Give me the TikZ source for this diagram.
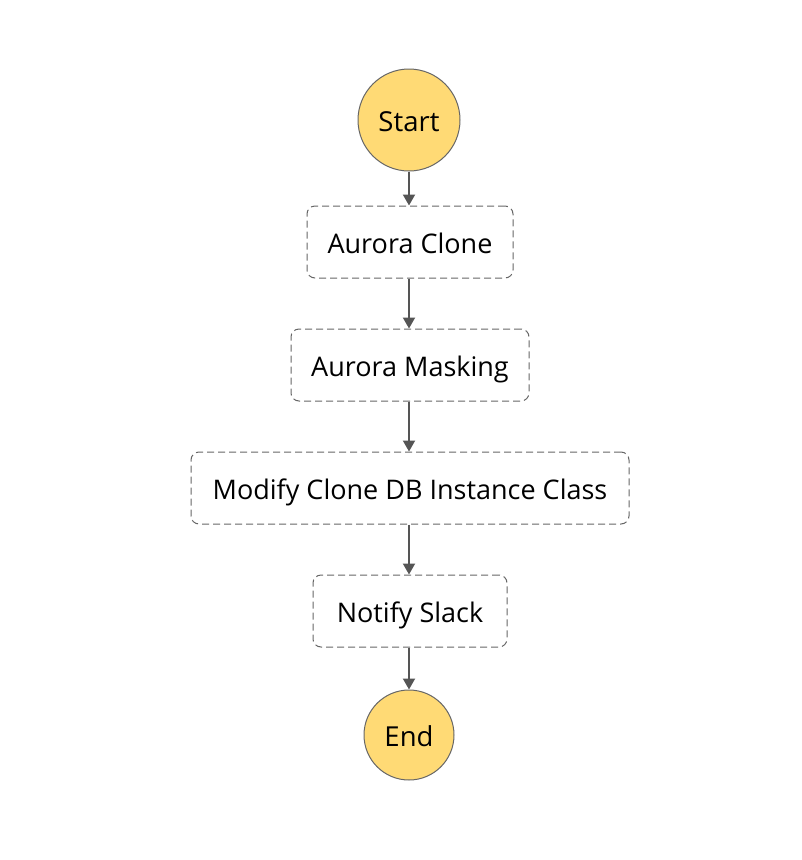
\documentclass[tikz,border=0pt]{standalone}
\usepackage{fontspec}
\setmainfont{Open Sans}
\usetikzlibrary{arrows.meta}
\definecolor{stateyellow}{HTML}{FFDA75}
\definecolor{edgegray}{HTML}{555555}
\definecolor{bordergray}{HTML}{666666}
\begin{document}
\begin{tikzpicture}[x=1pt,y=-1pt,
  terminal/.style={circle,draw=bordergray,fill=stateyellow,line width=1pt,inner sep=0pt,text height=22pt,text depth=0pt,font=\fontsize{27.5}{32}\selectfont},
  task/.style={draw=bordergray,line width=1pt,dash pattern=on 7pt off 4pt,rounded corners=8pt,minimum height=72pt,text height=22pt,text depth=0pt,font=\fontsize{27}{32}\selectfont,inner sep=0pt},
  flow/.style={draw=edgegray,line width=2pt,-{Triangle[length=11pt,width=12pt]}}]
\path[use as bounding box] (0,0) rectangle (802,860);
\node[terminal,minimum size=102pt] (start) at (409,120) {Start};
\node[task,minimum width=206pt] (clone) at (410,242) {Aurora Clone};
\node[task,minimum width=238pt] (mask) at (410,365) {Aurora Masking};
\node[task,minimum width=438pt] (modify) at (410,488) {Modify Clone DB Instance Class};
\node[task,minimum width=194pt] (slack) at (410,611) {Notify Slack};
\node[terminal,minimum size=90pt] (end) at (409,735) {End};
\draw[flow] (start) -- (clone.north -| start);
\draw[flow] (clone.south -| start) -- (mask.north -| start);
\draw[flow] (mask.south -| start) -- (modify.north -| start);
\draw[flow] (modify.south -| start) -- (slack.north -| start);
\draw[flow] (slack.south -| start) -- (end);
\end{tikzpicture}
\end{document}
